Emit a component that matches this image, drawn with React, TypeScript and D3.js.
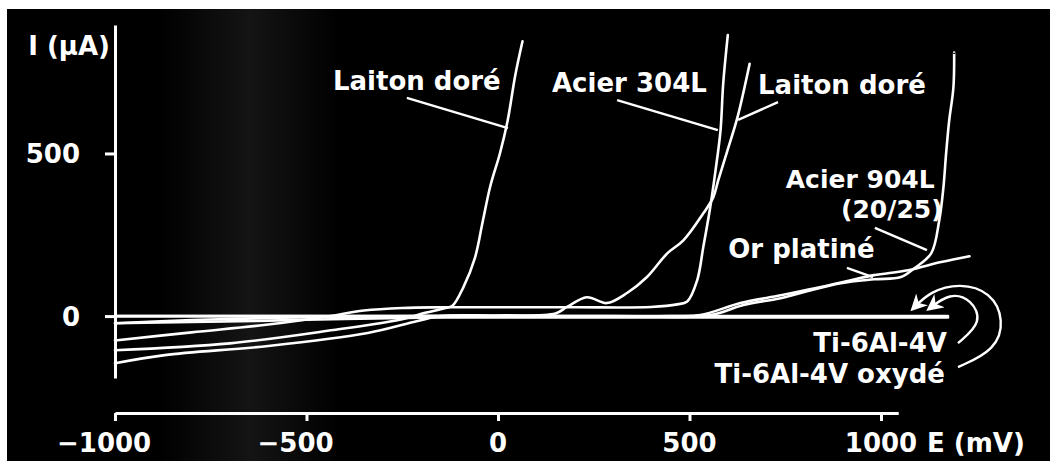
import React, { useEffect, useRef } from 'react';
import * as d3 from 'd3';

// axis ticks
const xTicks = [-1000, -500, 0, 500, 1000];
const yTicks = [0, 500];

// polarisation curves: [E (mV), I (µA)]
const ti6al4v = [[-1000, 0], [-500, 0], [0, 0], [500, 0], [1000, 0], [1175, 0]];
const ti6al4vOxyde = [[-1000, -22], [-800, -18], [-600, -14], [-400, -9], [-200, -5], [0, -4], [400, -4], [800, -4], [1175, -4]];
const acier304L = [[-1000, -75], [-800, -50], [-600, -26], [-450, -2], [-350, 17], [-250, 25], [-150, 27], [0, 27], [200, 27], [400, 28], [468, 36], [494, 45],
  [520, 110], [536, 212], [554, 334], [568, 448], [581, 571], [588, 715], [600, 864]];
const laitonDore1 = [[-1000, -105], [-700, -84], [-430, -43], [-260, -12], [-190, 10], [-140, 24], [-119, 32], [-90, 90], [-60, 180], [-40, 290],
  [-20, 400], [5, 500], [25, 600], [45, 740], [64, 845]];
const laitonDore2 = [[-1000, -145], [-870, -120], [-600, -92], [-340, -52], [-210, -15], [-150, 0], [0, 2], [150, 8], [180, 28], [232, 58],
  [284, 40], [337, 71], [389, 120], [442, 193], [484, 233], [536, 316], [562, 365], [575, 417], [599, 509], [625, 610], [657, 776]];
const acier904L = [[-1000, -22], [-800, -12], [-600, -6], [-400, -2], [-200, 0], [0, 0], [300, 0], [554, 3], [641, 34], [738, 55], [790, 71],
  [895, 101], [982, 113], [1052, 120], [1087, 147], [1131, 193], [1152, 294], [1163, 396], [1170, 500], [1178, 601], [1189, 702], [1191, 810]];
const orPlatine = [[-1000, 0], [0, 0], [450, 0], [528, 3], [633, 40], [738, 64], [843, 89], [921, 110], [982, 126], [1071, 141], [1157, 166], [1231, 184]];

const series = [ti6al4v, ti6al4vOxyde, acier304L, laitonDore1, laitonDore2, acier904L, orPlatine];

// curve labels, anchored in data units (E, I); several lines share one text
const labels = [
  { lines: ['Laiton doré'], e: -431, i: 695, anchor: 'start', size: 26 },
  { lines: ['Acier 304L'], e: 141, i: 689, anchor: 'start', size: 26 },
  { lines: ['Laiton doré'], e: 679, i: 683, anchor: 'start', size: 26 },
  { lines: ['Acier 904L', '(20/25)'], e: 1140, i: 394, anchor: 'end', size: 25 },
  { lines: ['Or platiné'], e: 601, i: 179, anchor: 'start', size: 26 },
  { lines: ['Ti-6Al-4V'], e: 1172, i: -110, anchor: 'end', size: 26 },
  { lines: ['Ti-6Al-4V oxydé'], e: 1167, i: -206, anchor: 'end', size: 26 },
];

const leaders = [
  [[-238, 671], [26, 578]],
  [[311, 664], [574, 572]],
  [[731, 658], [627, 603]],
  [[984, 271], [1120, 203]],
  [[911, 148], [979, 120]],
];

const arrows = [
  [[1201, -83], [1266, -18], [1236, 52], [1180, 72], [1125, 22]],
  [[1201, -157], [1300, -104], [1322, -12], [1287, 74], [1206, 102], [1128, 76], [1083, 22]],
];

const W = 1050, H = 461;
const FONT = "'DejaVu Sans', sans-serif";

function PolarisationChart() {
  const ref = useRef(null);
  useEffect(() => {
    const svg = d3.select(ref.current);
    svg.selectAll('*').remove();
    svg.attr('width', W).attr('height', H);

    const x = d3.scaleLinear().domain([-1000, 1000]).range([115, 881]);
    const y = d3.scaleLinear().domain([-298, 895]).range([413, 25]);

    svg.append('rect').attr('width', W).attr('height', H).attr('fill', '#fff');
    svg.append('rect').attr('x', 7).attr('y', 9).attr('width', W - 7).attr('height', H - 9).attr('fill', '#000');

    // scanned speckle band
    const defs = svg.append('defs');
    const grad = defs.append('linearGradient').attr('id', 'band');
    grad.append('stop').attr('offset', '0%').attr('stop-color', '#fff').attr('stop-opacity', 0);
    grad.append('stop').attr('offset', '50%').attr('stop-color', '#fff').attr('stop-opacity', 0.08);
    grad.append('stop').attr('offset', '100%').attr('stop-color', '#fff').attr('stop-opacity', 0);
    svg.append('rect').attr('x', 160).attr('y', 9).attr('width', 180).attr('height', H - 9).attr('fill', 'url(#band)');

    defs.append('marker')
      .attr('id', 'head').attr('viewBox', '0 0 10 10').attr('refX', 8).attr('refY', 5)
      .attr('markerWidth', 7).attr('markerHeight', 7).attr('orient', 'auto')
      .append('path').attr('d', 'M0,0L10,5L0,10L3,5Z').attr('fill', '#fff');

    // Y axis
    const yAxisScale = d3.scaleLinear().domain([-190, 895]).range([y(-190), y(895)]);
    const gy = svg.append('g').attr('transform', `translate(${x(-1000)},0)`)
      .call(d3.axisLeft(yAxisScale).tickValues(yTicks).tickSize(10).tickSizeOuter(0).tickFormat(() => ''));
    gy.selectAll('path, line').attr('stroke', '#fff').attr('stroke-width', 3);
    svg.selectAll('.ylab').data(yTicks).enter().append('text')
      .attr('x', 80).attr('y', d => y(d) + 10).attr('text-anchor', 'end')
      .text(d => d);

    // X axis
    const xAxisScale = d3.scaleLinear().domain([-1000, 1045]).range([x(-1000), x(1045)]);
    const gx = svg.append('g').attr('transform', `translate(0,${y(-298)})`)
      .call(d3.axisBottom(xAxisScale).tickValues(xTicks).tickSize(8).tickSizeOuter(0).tickFormat(() => ''));
    gx.selectAll('path, line').attr('stroke', '#fff').attr('stroke-width', 3);
    svg.selectAll('.xlab').data(xTicks).enter().append('text')
      .attr('x', d => x(d) + (d < 0 ? String(Math.abs(d)).length * 0.696 * 13 : 0))
      .attr('y', 452)
      .attr('text-anchor', d => (d < 0 ? 'end' : 'middle'))
      .text(d => (d < 0 ? '\u2212' + Math.abs(d) : d));

    svg.append('text').attr('x', 110).attr('y', 55).attr('text-anchor', 'end').text('I (µA)');
    svg.append('text').attr('x', 927).attr('y', 452).text('E (mV)');

    // curves
    const line = d3.line().x(d => x(d[0])).y(d => y(d[1])).curve(d3.curveCatmullRom.alpha(0.5));
    svg.append('g').selectAll('path').data(series).enter().append('path')
      .attr('d', d => line(d)).attr('fill', 'none').attr('stroke', '#fff')
      .attr('stroke-width', 2.6).attr('stroke-linejoin', 'round').attr('stroke-linecap', 'round');

    // leaders
    svg.append('g').selectAll('line').data(leaders).enter().append('line')
      .attr('x1', d => x(d[0][0])).attr('y1', d => y(d[0][1]))
      .attr('x2', d => x(d[1][0])).attr('y2', d => y(d[1][1]))
      .attr('stroke', '#fff').attr('stroke-width', 2.4);

    // arrows toward Ti curves
    const arc = d3.line().x(d => x(d[0])).y(d => y(d[1])).curve(d3.curveBasis);
    svg.append('g').selectAll('path').data(arrows).enter().append('path')
      .attr('d', d => arc(d)).attr('fill', 'none').attr('stroke', '#fff')
      .attr('stroke-width', 2.4).attr('marker-end', 'url(#head)');

    svg.selectAll('text').attr('font-size', 26);

    // labels
    const lab = svg.append('g').selectAll('text').data(labels).enter().append('text')
      .attr('x', d => x(d.e)).attr('y', d => y(d.i)).attr('text-anchor', d => d.anchor)
      .attr('font-size', d => d.size);
    lab.selectAll('tspan').data(d => d.lines.map((t, k) => ({ t, k, d }))).enter().append('tspan')
      .attr('x', o => x(o.d.e) + (o.k > 0 ? 8 : 0)).attr('dy', o => (o.k > 0 ? 30 : 0))
      .text(o => o.t);

    svg.selectAll('text').attr('fill', '#fff').attr('font-family', FONT).attr('font-weight', 'bold');
  }, []);

  return <svg ref={ref} style={{ position: 'absolute', left: 0, top: 0 }} />;
}

export default function App() {
  return <PolarisationChart />;
}
